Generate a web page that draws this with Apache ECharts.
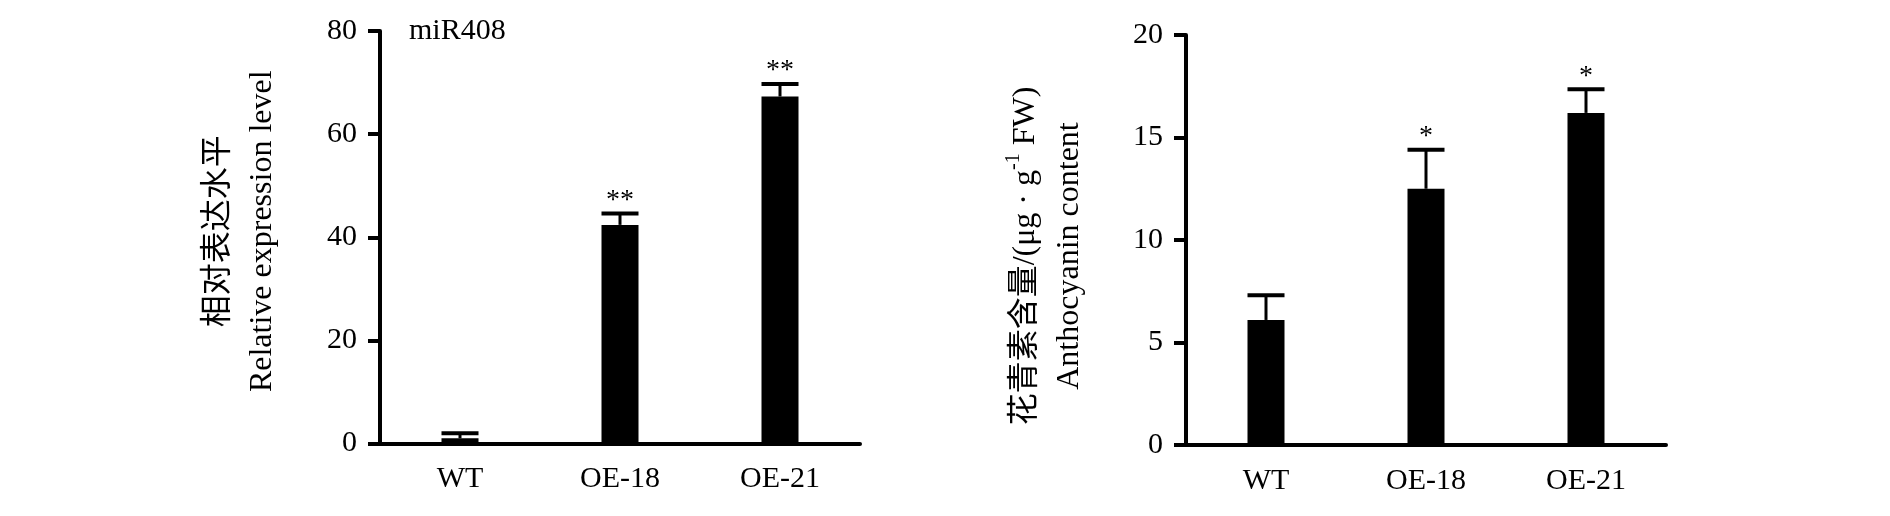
<!DOCTYPE html>
<html>
<head>
<meta charset="utf-8">
<script src="https://cdn.jsdelivr.net/npm/echarts@6/dist/echarts.min.js"></script>
<style>
html,body{margin:0;padding:0;background:#fff;}
#chart{width:1890px;height:516px;}
</style>
</head>
<body>
<div id="chart"></div>
<script>
// ---- data ----
const categories = ['WT', 'OE-18', 'OE-21'];

const exprMean = [1.0, 42.4, 67.3];
const exprErr = [1.0, 2.2, 2.4];
const exprSig = ['', '**', '**'];
const exprTicks = { min: 0, max: 80, interval: 20 };

const anthoMean = [6.1, 12.5, 16.2];
const anthoErr = [1.2, 1.9, 1.15];
const anthoSig = ['', '*', '*'];
const anthoTicks = { min: 0, max: 20, interval: 5 };

// ---- styling ----
const FONT = "'Liberation Serif', 'Noto Sans CJK SC', serif";
const BAR_W = 37;

function errRenderer(sigs) {
  return function (params, api) {
    const i = api.value(0), m = api.value(1), e = api.value(2);
    const base = api.coord([i, m]);
    const top = api.coord([i, m + e]);
    const half = BAR_W / 2;
    const children = [
      { type: 'line', shape: { x1: top[0], y1: base[1], x2: top[0], y2: top[1] },
        style: { stroke: '#000', lineWidth: 3 } },
      { type: 'line', shape: { x1: top[0] - half, y1: top[1], x2: top[0] + half, y2: top[1] },
        style: { stroke: '#000', lineWidth: 4 } }
    ];
    const s = sigs[params.dataIndex];
    if (s) {
      children.push({ type: 'text', x: top[0], y: top[1] + 1,
        style: { text: s, fill: '#000', font: '28px ' + FONT, textAlign: 'center', textVerticalAlign: 'bottom' } });
    }
    return { type: 'group', children };
  };
}

function xAxisCfg(gi) {
  return {
    type: 'category', gridIndex: gi, data: categories,
    axisLine: { lineStyle: { color: '#000', width: 4 } },
    axisTick: { alignWithLabel: true, length: 12, lineStyle: { color: '#000', width: 4 } },
    axisLabel: { color: '#000', fontSize: 30, fontFamily: FONT, margin: 21 }
  };
}
function yAxisCfg(gi, t, name, gap, nameStyle) {
  return {
    type: 'value', gridIndex: gi, min: t.min, max: t.max, interval: t.interval,
    name: name, nameLocation: 'middle', nameRotate: 90, nameGap: gap,
    nameTextStyle: nameStyle,
    splitLine: { show: false },
    axisLine: { show: true, lineStyle: { color: '#000', width: 4 } },
    axisTick: { show: true, length: 12, lineStyle: { color: '#000', width: 4 } },
    axisLabel: { color: '#000', fontSize: 30, fontFamily: FONT, margin: 23 }
  };
}

const chart = echarts.init(document.getElementById('chart'), null, { renderer: 'canvas' });
chart.setOption({
  backgroundColor: '#fff',
  animation: false,
  title: {
    text: 'miR408', left: 404, top: 11,
    textStyle: { color: '#000', fontSize: 30, fontWeight: 'normal', fontFamily: FONT }
  },
  grid: [
    { left: 380, top: 31, width: 480, height: 412.5 },
    { left: 1186, top: 35, width: 480, height: 410 }
  ],
  xAxis: [xAxisCfg(0), xAxisCfg(1)],
  yAxis: [
    yAxisCfg(0, exprTicks, '相对表达水平\nRelative expression level', 95, {
      color: '#000', fontSize: 32, fontFamily: FONT, lineHeight: 44, padding: [0, 0, 0, 12]
    }),
    yAxisCfg(1, anthoTicks, '花青素含量/(μg · g{sup|-1} FW)\nAnthocyanin content', 94, {
      color: '#000', fontSize: 32, fontFamily: FONT, lineHeight: 44, padding: [0, 32, 0, 0],
      rich: { sup: { fontSize: 20, fontFamily: FONT, color: '#000', lineHeight: 24, verticalAlign: 'top' } }
    })
  ],
  series: [
    { type: 'bar', xAxisIndex: 0, yAxisIndex: 0, data: exprMean, barWidth: BAR_W,
      itemStyle: { color: '#000' } },
    { type: 'custom', xAxisIndex: 0, yAxisIndex: 0, z: 3,
      data: exprMean.map((v, i) => [i, v, exprErr[i]]),
      encode: { x: 0, y: 1 },
      renderItem: errRenderer(exprSig) },
    { type: 'bar', xAxisIndex: 1, yAxisIndex: 1, data: anthoMean, barWidth: BAR_W,
      itemStyle: { color: '#000' } },
    { type: 'custom', xAxisIndex: 1, yAxisIndex: 1, z: 3,
      data: anthoMean.map((v, i) => [i, v, anthoErr[i]]),
      encode: { x: 0, y: 1 },
      renderItem: errRenderer(anthoSig) }
  ]
});
</script>
</body>
</html>
